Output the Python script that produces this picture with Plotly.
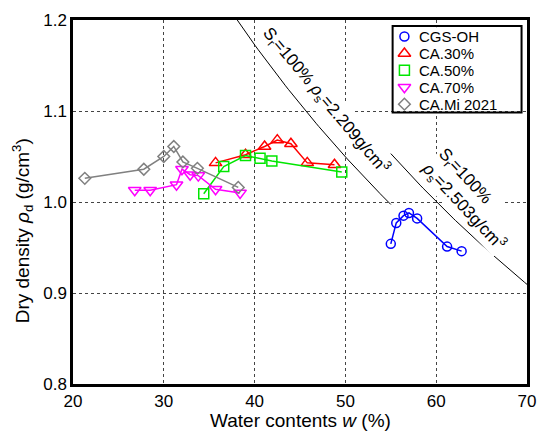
import plotly.graph_objects as go

# ---------------- data ----------------
cgs_w = [55.0, 55.6, 56.4, 57.0, 57.9, 61.2, 62.8]
cgs_rho = [0.954, 0.977, 0.985, 0.988, 0.982, 0.951, 0.946]

ca30_w = [35.7, 39.0, 41.1, 42.5, 44.0, 45.8, 48.8]
ca30_rho = [1.043, 1.052, 1.061, 1.068, 1.064, 1.043, 1.041]

ca50_w = [34.4, 36.6, 39.0, 40.6, 41.9, 49.6]
ca50_rho = [1.009, 1.039, 1.051, 1.048, 1.045, 1.033]

ca70_w = [26.8, 28.5, 31.4, 32.0, 32.9, 33.8, 35.7, 38.4]
ca70_rho = [1.013, 1.013, 1.019, 1.036, 1.030, 1.029, 1.014, 1.010]

mi_w = [21.3, 27.8, 30.0, 31.1, 32.1, 33.7, 38.2]
mi_rho = [1.026, 1.036, 1.050, 1.061, 1.044, 1.037, 1.016]

series_names = ["CGS-OH", "CA.30%", "CA.50%", "CA.70%", "CA.Mi 2021"]

# zero-air-void (Sr = 100 %) curves: particle densities and w spans
rho_s_list = [2.209, 2.503]
sat_w_spans = [(37.0, 55.0), (55.0, 70.0)]

x_ticks = [20, 30, 40, 50, 60, 70]
y_ticks = [0.8, 0.9, 1.0, 1.1, 1.2]

x_title = "Water contents <i>w</i> (%)"
y_title = "Dry density <i>ρ</i><sub>d</sub> (g/cm<sup>3</sup>)"

# ---------------- styles ----------------
FONT = "Liberation Sans, Arial, sans-serif"
styles = [
    dict(symbol="circle-open", color="#0000ff", size=9),
    dict(symbol="triangle-up-open", color="#ff0000", size=11),
    dict(symbol="square-open", color="#00e600", size=10),
    dict(symbol="triangle-down-open", color="#ff00ff", size=11),
    dict(symbol="diamond-open", color="#808080", size=9),
]
data = [(cgs_w, cgs_rho), (ca30_w, ca30_rho), (ca50_w, ca50_rho),
        (ca70_w, ca70_rho), (mi_w, mi_rho)]

fig = go.Figure()

# saturation curves
for rs, (w0, w1) in zip(rho_s_list, sat_w_spans):
    n = 60
    ws = [w0 + (w1 - w0) * i / (n - 1) for i in range(n)]
    rd = [rs / (1 + w / 100.0 * rs) for w in ws]
    fig.add_trace(go.Scatter(x=ws, y=rd, mode="lines",
                             line=dict(color="black", width=1),
                             showlegend=False, hoverinfo="skip"))

for (xs, ys), st, nm in zip(data, styles, series_names):
    fig.add_trace(go.Scatter(
        x=xs, y=ys, mode="lines+markers", name=nm, showlegend=False,
        line=dict(color=st["color"], width=1.5),
        marker=dict(symbol=st["symbol"], size=st["size"],
                    color=st["color"], line=dict(color=st["color"], width=1.5)),
    ))

# ---------------- custom legend (paper-like overlay axes) ----------------
leg_x_marker = 0.730
leg_x_text = 0.762
leg_top = 0.9547
leg_step = 0.0465
for i, (st, nm) in enumerate(zip(styles, series_names)):
    yy = leg_top - i * leg_step
    fig.add_trace(go.Scatter(
        x=[leg_x_marker], y=[yy], mode="markers", xaxis="x2", yaxis="y2",
        showlegend=False, hoverinfo="skip",
        marker=dict(symbol=st["symbol"], size=st["size"], color=st["color"],
                    line=dict(color=st["color"], width=1.5)),
    ))
    fig.add_annotation(x=leg_x_text, y=yy, xref="paper", yref="paper",
                       text=nm, showarrow=False, xanchor="left", yanchor="middle",
                       height=15, borderpad=0, borderwidth=0, valign="middle",
                       font=dict(family=FONT, size=15, color="black"))

# white patch hiding the grid behind the legend texts (markers stay visible)
fig.add_shape(type="rect", xref="paper", yref="paper",
              x0=0.755, x1=0.985, y0=0.750, y1=0.980,
              line=dict(width=0), fillcolor="white", layer="above")
# legend frame
fig.add_shape(type="rect", xref="paper", yref="paper",
              x0=0.704, x1=0.988, y0=0.746, y1=0.9835,
              line=dict(color="black", width=2), fillcolor="rgba(0,0,0,0)",
              layer="above")

# ---------------- curve labels ----------------
fig.add_annotation(
    x=47.9, y=1.112, xref="x", yref="y", showarrow=False, textangle=50,
    text="S<sub>r</sub>=100% <i>ρ</i><sub>s</sub>=2.209g/cm<sup>3</sup>",
    font=dict(family=FONT, size=17, color="black"),
    bgcolor="white", borderpad=0)
fig.add_annotation(
    x=63.8, y=1.002, xref="x", yref="y", showarrow=False, textangle=47,
    text="S<sub>r</sub>=100%<br><i>ρ</i><sub>s</sub>=2.503g/cm<sup>3</sup>",
    align="left",
    font=dict(family=FONT, size=17, color="black"),
    bgcolor="white", borderpad=0)

# ---------------- axis titles ----------------
fig.add_annotation(x=0.5, y=-0.099, xref="paper", yref="paper", showarrow=False,
                   text=x_title, xanchor="center", yanchor="middle",
                   font=dict(family=FONT, size=19, color="black"))
fig.add_annotation(x=-0.112, y=0.42, xref="paper", yref="paper", showarrow=False,
                   text=y_title, textangle=-90, xanchor="center", yanchor="middle",
                   font=dict(family=FONT, size=19, color="black"))

axis_common = dict(
    showline=True, linecolor="black", linewidth=2.5, mirror=True,
    showgrid=True, gridcolor="#444444", gridwidth=1, griddash="dot",
    ticks="", zeroline=False, automargin=False,
    tickfont=dict(family=FONT, size=17, color="black"),
)

fig.update_layout(
    width=539, height=436,
    margin=dict(l=73, r=12, t=20, b=52, autoexpand=False),
    paper_bgcolor="white", plot_bgcolor="white",
    font=dict(family=FONT, color="black"),
    xaxis=dict(range=[20, 70], tickvals=x_ticks, **axis_common),
    yaxis=dict(range=[0.8, 1.2], tickvals=y_ticks, tickformat=".1f",
               **axis_common),
    xaxis2=dict(overlaying="x", range=[0, 1], visible=False, fixedrange=True,
                automargin=False),
    yaxis2=dict(overlaying="y", range=[0, 1], visible=False, fixedrange=True,
                automargin=False),
    showlegend=False,
)

fig.write_html("out.html")
